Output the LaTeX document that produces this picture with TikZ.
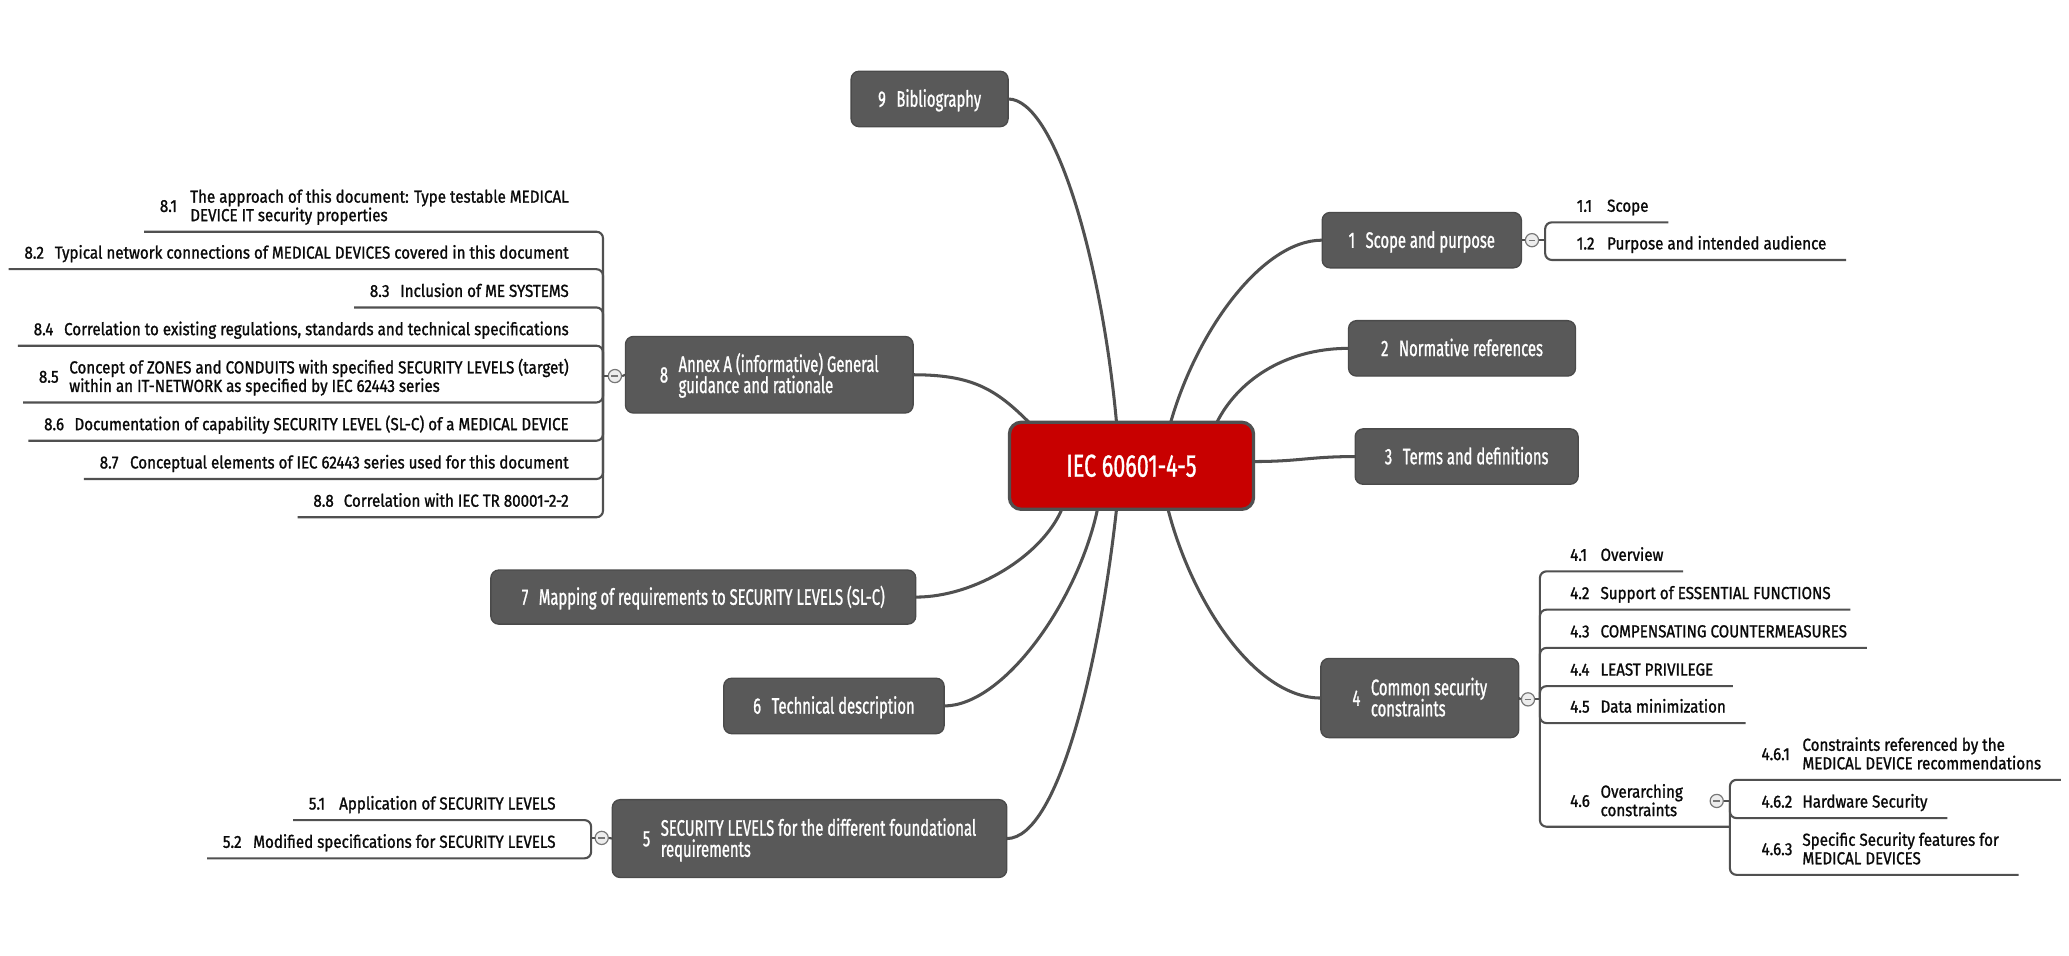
\documentclass[tikz,border=0pt]{standalone}
\usepackage{fontspec}
\setmainfont{Fira Sans}
\newfontfamily\subfont{Fira Sans}[FakeStretch=0.87, FakeBold=1.2]
\newfontfamily\topfont{Fira Sans}[FakeStretch=0.66, FakeBold=1]
\newfontfamily\cenfont{Fira Sans}[FakeStretch=0.68, FakeBold=1]
\usetikzlibrary{calc}
\definecolor{topfill}{HTML}{595959}
\definecolor{topline}{HTML}{4A4A4A}
\definecolor{linec}{HTML}{505050}
\definecolor{cenfill}{HTML}{C80000}
\definecolor{subtextc}{HTML}{0A0A0A}
\definecolor{colfill}{HTML}{EDEDED}
\definecolor{colline}{HTML}{777777}
% label helpers
\newcommand\sone[3][23pt]{\makebox[#1][l]{#2}#3}
\newcommand\stwo[4][23pt]{\makebox[#1][l]{\raisebox{7pt}{#2}}\vbox{\baselineskip=14pt\lineskiplimit=-20pt\hbox{#3}\hbox{#4}}}
\newcommand\mone[2]{#1\hspace{8pt}#2}
\newcommand\mtwo[3]{\raisebox{8pt}{#1}\hspace{8pt}\vbox{\baselineskip=16pt\lineskiplimit=-20pt\hbox{#2}\hbox{#3}}}
% children
\newcommand\rchild[5]{%
  \node[subtext, anchor=base west] (#1) at (#4,#3-8) {#5};
  \coordinate (#1u) at (#4,#3);
  \draw[subline] (#2) |- ($(#1.east |- #1u)+(15,0)$);
}
\newcommand\lchild[5]{%
  \node[subtext, anchor=base east] (#1) at (#4,#3-8) {#5};
  \coordinate (#1u) at (#4,#3);
  \draw[subline] (#2) |- ($(#1.west |- #1u)+(-12,0)$);
}
\tikzset{
  topic/.style={rectangle, rounded corners=6pt, fill=topfill, draw=topline, line width=1pt,
    inner sep=0pt, outer sep=0pt, text=white, font=\topfont\fontsize{17}{16}\selectfont,
    text height=11.7pt, text depth=0pt},
  topictwo/.style={topic, text height=27.7pt},
  central/.style={rectangle, rounded corners=9pt, fill=cenfill, draw=linec, line width=2.5pt,
    inner sep=0pt, outer sep=0pt, text=white, font=\cenfont\fontsize{24}{28}\selectfont,
    text height=16.5pt, text depth=0pt},
  conn/.style={draw=linec, line width=2.3pt},
  subline/.style={draw=linec, line width=1.6pt, rounded corners=5pt},
  subtext/.style={inner sep=0pt, outer sep=0pt, text=subtextc, font=\subfont\fontsize{13.2}{14}\selectfont},
  collapse/.style={circle, minimum size=10pt, inner sep=0pt, draw=colline, fill=colfill, line width=0.9pt,
    path picture={\draw[colline, line width=1pt] ([xshift=-2.6pt]path picture bounding box.center) -- ([xshift=2.6pt]path picture bounding box.center);}}
}
\begin{document}
\begin{tikzpicture}[x=1pt, y=-1pt]
\useasboundingbox (0,0) rectangle (1568,724);
\fill[white] (0,0) rectangle (1568,724);

% central topic
\node[central, minimum width=185pt, minimum height=66pt] (c) at (857.5,353) {IEC 60601-4-5};

% main topics
\node[topic, minimum width=119pt, minimum height=42pt] (n9) at (704.5,75) {\mone{9}{Bibliography}};
\node[topictwo, minimum width=218pt, minimum height=58pt] (n8) at (583,284) {\mtwo{8}{Annex A (informative) General}{guidance and rationale}};
\node[topic, minimum width=322pt, minimum height=41pt] (n7) at (533,452.5) {\mone{7}{Mapping of requirements to SECURITY LEVELS (SL-C)}};
\node[topic, minimum width=167pt, minimum height=42pt] (n6) at (632,535) {\mone{6}{Technical description}};
\node[topictwo, minimum width=299pt, minimum height=59pt] (n5) at (613.5,635.5) {\mtwo{5}{SECURITY LEVELS for the different foundational}{requirements}};
\node[topic, minimum width=151pt, minimum height=42pt] (n1) at (1077.5,182) {\mone{1}{Scope and purpose}};
\node[topic, minimum width=172pt, minimum height=42pt] (n2) at (1108,264) {\mone{2}{Normative references}};
\node[topic, minimum width=169pt, minimum height=42pt] (n3) at (1111.5,346) {\mone{3}{Terms and definitions}};
\node[topictwo, minimum width=150pt, minimum height=60pt] (n4) at (1076,529) {\mtwo{4}{Common security}{constraints}};

% connectors to the central topic
\draw[conn] (n9.east) .. controls +(36,0) and +(-11,-120) .. (c.109);
\draw[conn] (n8.east) .. controls +(45,0) and +(-25,-25) .. (c.157.5);
\draw[conn] (n7.east) .. controls +(45,0) and +(-15,35) .. (c.-148.8);
\draw[conn] (n6.east) .. controls +(45,0) and +(-15,70) .. (c.-128.8);
\draw[conn] (n5.east) .. controls +(40,0) and +(-12,110) .. (c.-109.2);
\draw[conn] (n1.west) .. controls +(-45,0) and +(20,-70) .. (c.48.2);
\draw[conn] (n2.west) .. controls +(-50,0) and +(15,-30) .. (c.27.5);
\draw[conn] (n3.west) .. controls +(-35,0) and +(35,0) .. (c.2.5);
\draw[conn] (n4.west) .. controls +(-50,0) and +(18,70) .. (c.-50.2);

% collapse markers and brackets
\node[collapse] (k8) at (466,285) {};
\coordinate (b8) at (457,285);
\draw[subline] (n8.west) -- (k8.east);
\draw[subline] (k8.west) -- (b8);

\node[collapse] (k5) at (456,635) {};
\coordinate (b5) at (448,635);
\draw[subline] (n5.west) -- (k5.east);
\draw[subline] (k5.west) -- (b5);

\node[collapse] (k1) at (1161,182) {};
\coordinate (b1) at (1171,182);
\draw[subline] (n1.east) -- (k1.west);
\draw[subline] (k1.east) -- (b1);

\node[collapse] (k4) at (1158,530) {};
\coordinate (b4) at (1167,530);
\draw[subline] (n4.east) -- (k4.west);
\draw[subline] (k4.east) -- (b4);

% children of 8
\lchild{s81}{b8}{175.6}{431}{\stwo{8.1}{The approach of this document: Type testable MEDICAL}{DEVICE IT security properties}}
\lchild{s82}{b8}{204}{431}{\sone{8.2}{Typical network connections of MEDICAL DEVICES covered in this document}}
\lchild{s83}{b8}{233}{431}{\sone{8.3}{Inclusion of ME SYSTEMS}}
\lchild{s84}{b8}{262}{431}{\sone{8.4}{Correlation to existing regulations, standards and technical specifications}}
\lchild{s85}{b8}{305}{431}{\stwo{8.5}{Concept of ZONES and CONDUITS with specified SECURITY LEVELS (target)}{within an IT-NETWORK as specified by IEC 62443 series}}
\lchild{s86}{b8}{334}{431}{\sone{8.6}{Documentation of capability SECURITY LEVEL (SL-C) of a MEDICAL DEVICE}}
\lchild{s87}{b8}{363}{431}{\sone{8.7}{Conceptual elements of IEC 62443 series used for this document}}
\lchild{s88}{b8}{392}{431}{\sone{8.8}{Correlation with IEC TR 80001-2-2}}

% children of 5
\lchild{s51}{b5}{621.5}{421}{\sone{5.1}{Application of SECURITY LEVELS}}
\lchild{s52}{b5}{650.5}{421}{\sone{5.2}{Modified specifications for SECURITY LEVELS}}

% children of 1
\rchild{s11}{b1}{168.5}{1195}{\sone{1.1}{Scope}}
\rchild{s12}{b1}{197}{1195}{\sone{1.2}{Purpose and intended audience}}

% children of 4
\rchild{s41}{b4}{433}{1190}{\sone{4.1}{Overview}}
\rchild{s42}{b4}{462}{1190}{\sone{4.2}{Support of ESSENTIAL FUNCTIONS}}
\rchild{s43}{b4}{491}{1190}{\sone{4.3}{COMPENSATING COUNTERMEASURES}}
\rchild{s44}{b4}{520}{1190}{\sone{4.4}{LEAST PRIVILEGE}}
\rchild{s45}{b4}{548}{1190}{\sone{4.5}{Data minimization}}
\node[subtext, anchor=base west] (s46) at (1190,618.5) {\stwo{4.6}{Overarching}{constraints}};
\coordinate (b46) at (1311,607);
\draw[subline] (b4) |- (b46 |- 0,626.5);
\node[collapse] (k46) at (1301,607) {};
\draw[subline] (k46.east) -- (b46);

% children of 4.6
\rchild{s461}{b46}{591}{1335}{\stwo[31pt]{4.6.1}{Constraints referenced by the}{MEDICAL DEVICE recommendations}}
\rchild{s462}{b46}{620}{1335}{\sone[31pt]{4.6.2}{Hardware Security}}
\rchild{s463}{b46}{663}{1335}{\stwo[31pt]{4.6.3}{Specific Security features for}{MEDICAL DEVICES}}
\end{tikzpicture}
\end{document}
